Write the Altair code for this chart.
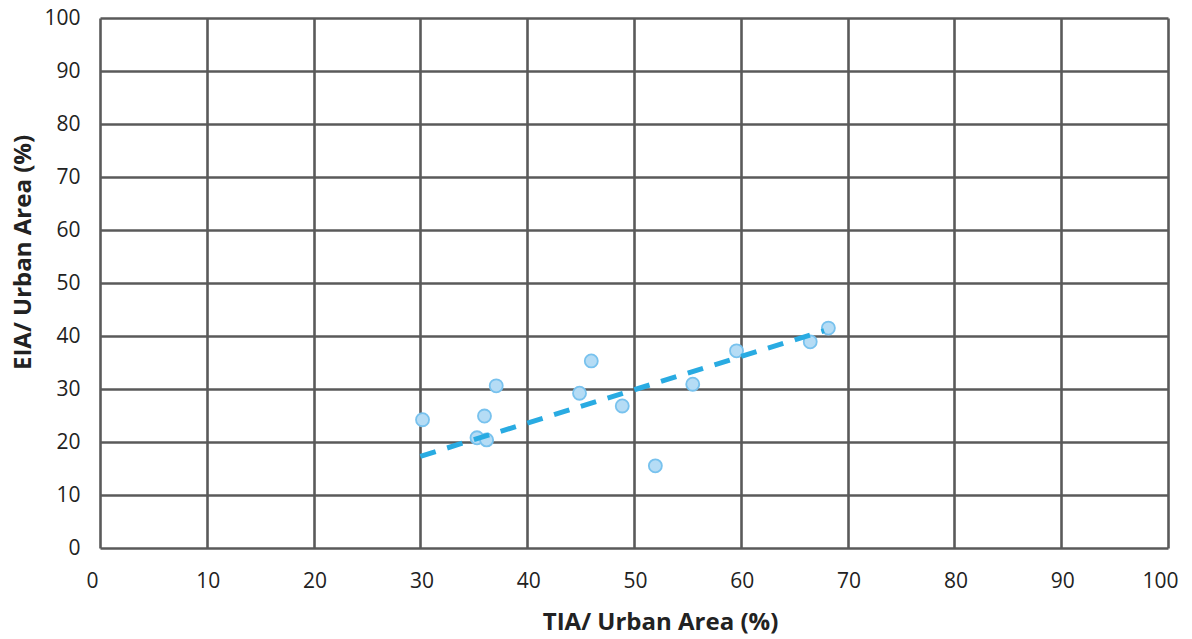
import altair as alt
import pandas as pd

tia = [30.2, 35.3, 36.2, 36.0, 37.1, 44.9, 46.0, 48.9, 52.0, 55.5, 59.6, 66.5, 68.2]
eia = [24.2, 20.8, 20.4, 24.9, 30.6, 29.2, 35.3, 26.8, 15.5, 30.9, 37.2, 38.9, 41.5]

trend_x = [30.0, 67.8]
trend_y = [17.3, 41.0]

ticks = list(range(0, 101, 10))

pts = pd.DataFrame({"tia": tia, "eia": eia})
trend = pd.DataFrame({"tia": trend_x, "eia": trend_y})

FONT = "Open Sans"

xscale = alt.Scale(domain=[0, 100], nice=False)
yscale = alt.Scale(domain=[0, 100], nice=False)

common = dict(values=ticks, grid=True, domain=False, ticks=False, labelFontSize=21,
              titleFontSize=24, labelFont=FONT, titleFont=FONT, labelColor="#222222",
              titleColor="#222222", titleFontWeight="bold", gridColor="#5a5a5a",
              gridWidth=2.6, gridOpacity=1, labelFlush=False)

xax = alt.Axis(title="TIA/ Urban Area (%)", labelPadding=22, titleX=560, titleY=81,
               titleBaseline="alphabetic", titleAlign="center",
               labelOffset={"condition": {"test": "datum.value == 0 || datum.value == 100",
                                          "value": -8}, "value": 1},
               **common)
yax = alt.Axis(title="EIA/ Urban Area (%)", labelPadding=20, titleX=-77, titleY=234,
               titleBaseline="middle", titleAlign="center", titleAngle=270, **common)

line = alt.Chart(trend).mark_line(color="#29abe2", strokeWidth=5, strokeDash=[16, 12]).encode(
    x=alt.X("tia:Q", scale=xscale, axis=xax),
    y=alt.Y("eia:Q", scale=yscale, axis=yax),
)

points = alt.Chart(pts).mark_circle(size=170, color="#b5dcf5", opacity=1,
                                     stroke="#78c2ee", strokeWidth=1.8).encode(
    x=alt.X("tia:Q", scale=xscale),
    y=alt.Y("eia:Q", scale=yscale),
)

chart = alt.layer(points, line).properties(
    width=1068, height=530,
    autosize=alt.AutoSizeParams(type="none"),
    padding={"left": 92, "top": 10, "right": 16, "bottom": 86},
    background="white",
).configure_view(stroke=None)

chart.save("out.html", embed_options={"renderer": "svg", "actions": False})
